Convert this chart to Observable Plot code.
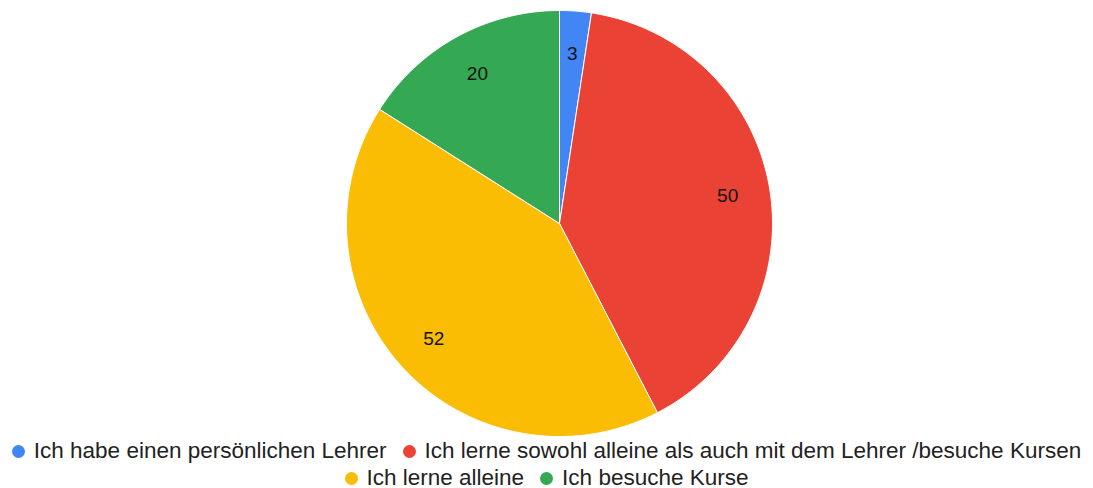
<!DOCTYPE html>
<html><head><meta charset="utf-8">
<script src="https://cdn.jsdelivr.net/npm/d3@7"></script>
<script src="https://cdn.jsdelivr.net/npm/@observablehq/plot@0.6"></script>
<style>
body{margin:0;background:#fff;font-family:Arial,"Liberation Sans",sans-serif;}
#legend{width:1093px;text-align:center;font-size:22.5px;color:#222;}
.row{height:27px;line-height:27px;white-space:nowrap;}
.item{display:inline-block;margin:0 8px;}
.dot{display:inline-block;width:13px;height:13px;border-radius:50%;margin-right:9px;vertical-align:0px;}
</style></head><body>
<div id="chart"></div>
<div id="legend"></div>
<script>
const categories = ["Ich habe einen persönlichen Lehrer","Ich lerne sowohl alleine als auch mit dem Lehrer /besuche Kursen","Ich lerne alleine","Ich besuche Kurse"];
const values = [3, 50, 52, 20];
const colors = ["#4285F4","#EA4335","#FBBC04","#34A853"];

const arcs = d3.pie().sort(null).value(d => d)(values);
const poly = [];
arcs.forEach((a, i) => {
  const n = Math.max(4, Math.ceil((a.endAngle - a.startAngle) / 0.01));
  poly.push({cat: categories[i], x: 0, y: 0});
  for (let k = 0; k <= n; k++) {
    const t = a.startAngle + (a.endAngle - a.startAngle) * k / n;
    poly.push({cat: categories[i], x: Math.sin(t), y: Math.cos(t)});
  }
  poly.push({cat: categories[i], x: 0, y: 0});
});
const labels = arcs.map((a, i) => {
  const m = (a.startAngle + a.endAngle) / 2;
  return {v: values[i], x: 0.8 * Math.sin(m), y: 0.8 * Math.cos(m)};
});

const chart = Plot.plot({
  width: 1093, height: 437,
  margin: 0,
  x: {domain: [-1, 1], range: [346, 772], axis: null},
  y: {domain: [-1, 1], range: [436, 10], axis: null},
  color: {domain: categories, range: colors},
  marks: [
    Plot.line(poly, {x: "x", y: "y", z: "cat", fill: "cat", stroke: "white", strokeWidth: 1, curve: "linear"}),
    Plot.text(labels, {x: "x", y: "y", text: d => String(d.v), fontSize: 19, fill: "#111", fontFamily: "Arial, Liberation Sans, sans-serif"})
  ]
});
document.getElementById("chart").appendChild(chart);

const lg = document.getElementById("legend");
const rows = [[0,1],[2,3]];
rows.forEach(r => {
  const div = document.createElement("div"); div.className = "row";
  r.forEach(i => {
    const s = document.createElement("span"); s.className = "item";
    s.innerHTML = `<span class="dot" style="background:${colors[i]}"></span>${categories[i]}`;
    div.appendChild(s);
  });
  lg.appendChild(div);
});
</script>
</body></html>
